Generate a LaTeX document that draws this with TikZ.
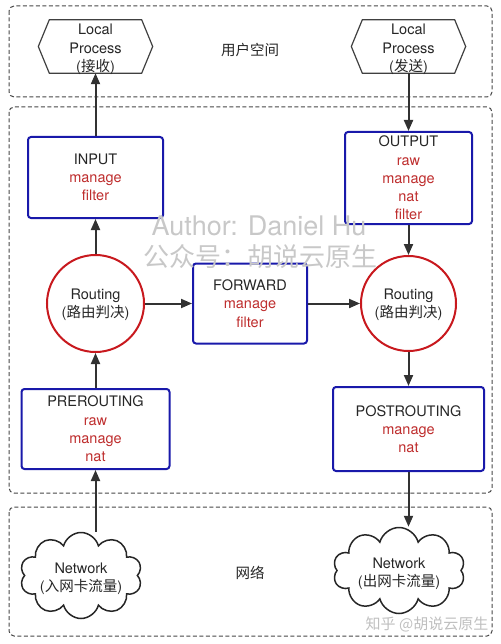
\documentclass[tikz,border=0pt]{standalone}
\usepackage{fontspec}
\setmainfont{TeX Gyre Heros}
\newfontfamily\cjk{Noto Sans CJK SC}
\usetikzlibrary{shapes.symbols,arrows.meta,calc}
\newcommand{\zh}[1]{{\cjk #1}}
\newcommand{\tb}[1]{\textcolor{txtred}{#1}}
\definecolor{boxblue}{RGB}{25,25,170}
\definecolor{circred}{RGB}{200,25,30}
\definecolor{txtred}{RGB}{190,45,45}
\definecolor{arrgray}{RGB}{50,50,50}
\definecolor{dashgray}{RGB}{70,70,70}
\definecolor{wm}{RGB}{200,200,200}
\begin{document}
\begin{tikzpicture}[x=1pt,y=-1pt,
  every node/.style={font=\fontsize{14.5}{18.3}\selectfont, text=black!85},
  chain/.style={draw=boxblue, line width=2pt, rounded corners=3pt, align=center, inner sep=1pt},
  router/.style={circle, draw=circred, line width=2pt, align=center, inner sep=0pt},
  region/.style={draw=dashgray, dash pattern=on 4pt off 2.5pt, line width=1pt, rounded corners=5pt},
  arr/.style={draw=arrgray, line width=2pt, -{Triangle[length=11pt,width=9pt]}},
  hexbox/.style={minimum width=114pt, minimum height=53pt, inner sep=0pt},
  hexline/.style={draw=black!75, line width=1.2pt},
  netcloud/.style={cloud, draw=black!85, line width=1.5pt, cloud puffs=10, aspect=1.4, inner sep=0pt},
  lbl/.style={align=center, inner sep=0pt},
  wmark/.style={text=wm}
]
\useasboundingbox (0,0) rectangle (500,644);
% regions
\draw[region] (9,6) rectangle (492,97);
\draw[region] (9,107) rectangle (492,493);
\draw[region] (9,507) rectangle (492,636);

% local processes
\node[hexbox] (lpin) at (95.5,46.5) {};
\draw[hexline] ($(lpin.north west)+(11,0)$) -- ($(lpin.north east)+(-11,0)$) -- (lpin.east) -- ($(lpin.south east)+(-11,0)$) -- ($(lpin.south west)+(11,0)$) -- (lpin.west) -- cycle;
\node[lbl] (lpinT) at ($(lpin)+(0,3)$) {Local\\Process\\(\zh{接收})};
\node[hexbox] (lpout) at (408.5,46.5) {};
\draw[hexline] ($(lpout.north west)+(11,0)$) -- ($(lpout.north east)+(-11,0)$) -- (lpout.east) -- ($(lpout.south east)+(-11,0)$) -- ($(lpout.south west)+(11,0)$) -- (lpout.west) -- cycle;
\node[lbl] (lpoutT) at ($(lpout)+(0,3)$) {Local\\Process\\(\zh{发送})};
\node (userspace) at (250,50) {\zh{用户空间}};

% chains
\node[chain, minimum width=135pt, minimum height=81pt] (input) at (95.5,177.5) {INPUT\\\tb{manage}\\\tb{filter}};
\node[chain, minimum width=127pt, minimum height=92pt] (output) at (408.5,178) {OUTPUT\\\tb{raw}\\\tb{manage}\\\tb{nat}\\\tb{filter}};
\node[router, minimum size=97pt] (routeL) at (95.5,303.5) {};
\node[lbl] (routeLT) at ($(routeL)+(0,1.5)$) {Routing\\(\zh{路由判决})};
\node[router, minimum size=95pt] (routeR) at (408.5,303.5) {};
\node[lbl] (routeRT) at ($(routeR)+(0,1.5)$) {Routing\\(\zh{路由判决})};
\node[chain, minimum width=114pt, minimum height=80pt] (forward) at (250,303.5) {FORWARD\\\tb{manage}\\\tb{filter}};
\node[chain, minimum width=148pt, minimum height=80pt] (pre) at (95.5,429) {PREROUTING\\\tb{raw}\\\tb{manage}\\\tb{nat}};
\node[chain, minimum width=151pt, minimum height=84pt] (post) at (408.5,429) {POSTROUTING\\\tb{manage}\\\tb{nat}};

% network
\node[netcloud, minimum width=122pt, minimum height=86pt] (netin) at (81,575.5) {};
\node[lbl] (netinT) at (81,578.5) {Network\\(\zh{入网卡流量})};
\node[netcloud, minimum width=132pt, minimum height=86pt] (netout) at (399,570.5) {};
\node[lbl] (netoutT) at (399,573.5) {Network\\(\zh{出网卡流量})};
\node (network) at (250,573) {\zh{网络}};

% connectors
\draw[arr] (input.north) -- (input.north |- lpin.south);
\draw[arr] (routeL) -- (input);
\draw[arr] (pre) -- (routeL);
\draw[arr] (pre.south |- netin.north) -- (pre.south);
\draw[arr] (routeL) -- (forward);
\draw[arr] (forward) -- (routeR);
\draw[arr] (output.north |- lpout.south) -- (output.north);
\draw[arr] (output) -- (routeR);
\draw[arr] (routeR) -- (post);
\draw[arr] (post.south) -- (post.south |- netout.north);

% watermarks
\node[wmark, font=\fontsize{27}{30}\selectfont] (wm1) at (259,226) {Author: Daniel Hu};
\node[wmark, font=\fontsize{26}{30}\selectfont\cjk] (wm2) at (260,257) {公众号：胡说云原生};
\node[text=black!25, font=\fontsize{15}{18}\selectfont\cjk] (wm3) at (427,624) {知乎 @胡说云原生};
\end{tikzpicture}
\end{document}
